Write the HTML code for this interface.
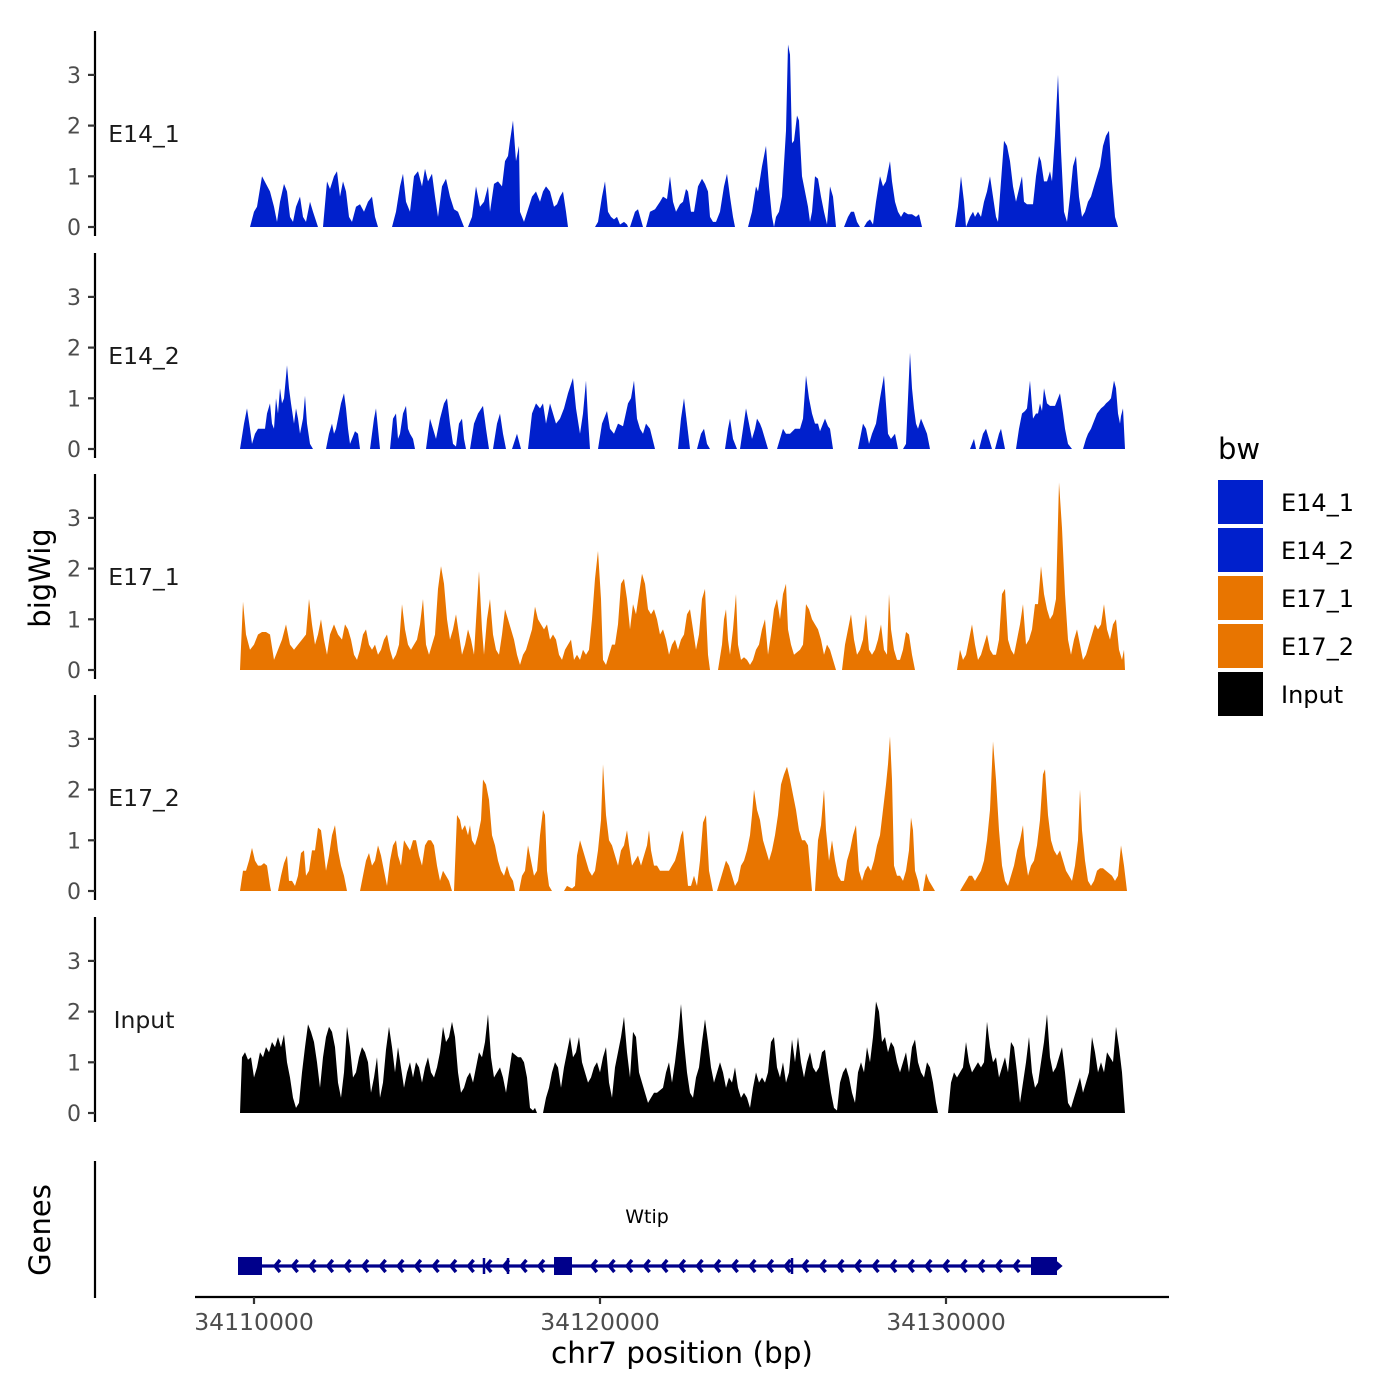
<!DOCTYPE html>
<html><head><meta charset="utf-8"><style>
html,body{margin:0;padding:0;background:#fff;}
svg{display:block;font-family:"DejaVu Sans","Liberation Sans",sans-serif;}
</style></head><body>
<svg id="s" width="1400" height="1400" viewBox="0 0 1400 1400" xmlns="http://www.w3.org/2000/svg">
<rect width="1400" height="1400" fill="#fff"/>
<g id="g"></g>
<text x="42" y="578" font-size="29" text-anchor="middle" transform="rotate(-90 42 578)" dominant-baseline="middle">bigWig</text>
<text x="42" y="1230" font-size="29" text-anchor="middle" transform="rotate(-90 42 1230)" dominant-baseline="middle">Genes</text>
<line x1="95" y1="1161" x2="95" y2="1298" stroke="#000" stroke-width="2.2"/>
<line x1="195" y1="1297" x2="1169" y2="1297" stroke="#000" stroke-width="2.2"/>
<g stroke="#333" stroke-width="2.2"><line x1="254" y1="1297" x2="254" y2="1304"/><line x1="600" y1="1297" x2="600" y2="1304"/><line x1="946" y1="1297" x2="946" y2="1304"/></g>
<g font-size="23.5" fill="#4d4d4d" text-anchor="middle"><text x="254" y="1330">34110000</text><text x="600" y="1330">34120000</text><text x="946" y="1330">34130000</text></g>
<text x="682" y="1363" font-size="29.5" text-anchor="middle">chr7 position (bp)</text>
<text x="647" y="1223" font-size="19" text-anchor="middle">Wtip</text>
<g id="genes"></g>
<text x="1218" y="459" font-size="29">bw</text>
<g font-size="24">
<rect x="1218" y="480" width="45" height="44" fill="#0020CC"/><text x="1281" y="511">E14_1</text>
<rect x="1218" y="528" width="45" height="44" fill="#0020CC"/><text x="1281" y="559">E14_2</text>
<rect x="1218" y="576" width="45" height="44" fill="#E87500"/><text x="1281" y="607">E17_1</text>
<rect x="1218" y="624" width="45" height="44" fill="#E87500"/><text x="1281" y="655">E17_2</text>
<rect x="1218" y="672" width="45" height="44" fill="#000"/><text x="1281" y="703">Input</text>
</g>
</svg>
<script>
var U=50.7;
var P=[
{b:227,c:"#0020CC",n:"E14_1",s:[
[250,0,254,.3,257,.4,262,1.0,266,.85,270,.7,274,.4,277,.1,280,.5,284,.85,287,.7,290,.2,293,.1,296,.4,300,.6,303,.2,306,.1,310,.5,313,.3,318,0],
[323,0,327,.9,330,.75,334,1.0,337,1.1,340,.6,343,.9,346,.7,349,.2,352,.1,356,.4,360,.45,364,.3,368,.5,372,.6,375,.2,378,0],
[392,0,396,.3,400,.8,403,1.05,406,.5,410,.3,414,1.0,418,1.1,422,.8,425,1.15,428,.9,432,1.05,435,.6,438,.2,442,.8,446,.95,450,.6,454,.35,458,.3,462,.1,464,0],
[468,0,472,.2,476,.8,480,.4,484,.5,488,.8,490,.3,494,.85,498,.9,502,.8,505,1.3,508,1.4,510,1.7,513,2.1,516,1.3,519,1.6,520,.3,524,.1,528,.35,532,.6,536,.7,540,.5,543,.7,546,.8,550,.7,554,.4,557,.45,560,.6,563,.7,566,.3,568,0],
[595,0,598,.1,602,.6,605,.9,608,.3,611,.2,614,.15,617,.2,620,.05,624,.1,627,.05,628,0],
[630,0,635,.3,638,.35,643,0],
[646,0,650,.3,655,.35,660,.5,663,.6,667,.55,670,1.0,673,.5,676,.3,680,.45,683,.5,686,.75,688,.7,691,.3,694,.3,698,.8,702,.95,705,.85,708,.7,710,.2,713,.1,716,.1,720,.3,724,.8,727,1.05,730,.6,733,.2,735,0],
[748,0,752,.3,756,.8,758,.7,762,1.2,766,1.6,769,.8,772,.2,774,0,776,.2,779,.3,782,.6,786,1.9,788,3.6,790,3.4,792,1.65,794,1.7,797,2.2,799,2.1,802,1.0,805,.7,808,.4,810,.1,812,.3,815,1.0,818,.95,821,.6,824,.3,827,.05,830,.8,833,.6,836,0],
[844,0,848,.2,851,.3,854,.3,857,.1,860,0],
[864,0,867,.1,870,.15,873,.05,876,.5,880,1.0,883,.8,886,.9,890,1.3,892,.9,895,.5,898,.3,901,.2,904,.3,908,.25,912,.25,916,.2,919,.25,922,0],
[955,0,958,.4,961,1.0,964,.5,966,0,970,.2,973,.3,975,.2,978,.3,981,.2,984,.5,987,.7,990,1.0,993,.6,996,.2,998,.1,1001,.9,1004,1.7,1007,1.6,1010,1.3,1013,.8,1016,.5,1019,.75,1022,1.0,1024,.5,1027,.45,1030,.45,1033,.45,1036,1.0,1039,1.4,1041,1.3,1044,.9,1047,.9,1050,1.1,1052,.9,1055,1.8,1058,3.0,1061,1.5,1064,.3,1067,.1,1070,.6,1073,1.2,1076,1.4,1079,.6,1082,.2,1085,.3,1088,.5,1091,.6,1094,.8,1097,1.0,1100,1.2,1103,1.6,1106,1.8,1109,1.9,1112,.9,1115,.2,1118,0]]},
{b:449,c:"#0020CC",n:"E14_2",s:[
[240,0,244,.5,247,.8,250,.4,252,.1,255,.3,258,.4,262,.4,265,.4,267,.7,270,.9,272,.5,274,.4,276,1.0,278,.7,280,1.2,282,.9,284,1.0,287,1.65,289,1.2,291,.9,294,.5,296,.8,298,.6,300,.3,303,.6,305,1.05,307,.5,310,.1,313,0],
[326,0,329,.3,332,.5,334,.3,336,.4,338,.6,341,.9,344,1.1,346,.8,348,.4,350,.1,352,.2,355,.35,358,.3,360,0],
[370,0,374,.6,376,.8,378,.4,380,0],
[390,0,393,.6,396,.7,398,.2,400,.3,403,.7,406,.85,408,.4,410,.3,413,.2,415,0],
[426,0,430,.6,433,.4,436,.2,440,.6,444,.9,447,1.0,450,.5,453,.1,456,.05,459,.5,462,.6,464,.2,466,0],
[470,0,474,.5,478,.7,483,.85,486,.4,489,0],[493,0,497,.5,500,.7,503,.3,506,0],[512,0,517,.3,521,0],
[528,0,532,.7,536,.9,540,.8,543,.9,546,.5,550,.9,553,.7,556,.5,560,.6,564,.8,568,1.1,573,1.4,576,.8,580,.3,583,.7,586,1.35,588,.6,590,0],
[598,0,602,.5,607,.75,610,.4,614,.3,618,.5,623,.45,628,.9,631,1.0,634,1.35,637,.6,640,.4,643,.3,646,.5,650,.4,655,0],
[678,0,681,.6,684,1.0,687,.5,690,0],[697,0,701,.3,704,.4,707,.1,710,0],[725,0,728,.4,730,.6,733,.2,737,0],
[740,0,743,.4,746,.8,749,.5,752,.2,755,.4,757,.6,760,.5,762,.4,765,.2,768,0],
[777,0,780,.2,783,.4,786,.3,790,.3,795,.4,800,.4,803,.6,806,1.45,809,1.0,812,.7,815,.5,818,.5,820,.35,823,.5,825,.6,828,.45,830,.4,833,0],
[858,0,861,.3,863,.5,866,.4,869,.1,872,.3,876,.5,880,1.0,884,1.45,887,.6,888,.3,891,.2,895,.3,898,0],
[903,0,906,.1,908,1.0,910,1.9,912,1.2,914,.8,916,.5,918,.4,921,.6,923,.5,927,.3,930,0],
[970,0,974,.2,976,0],[979,0,983,.3,986,.4,989,.2,992,0],[995,0,999,.3,1001,.4,1003,.2,1005,0],
[1016,0,1019,.4,1022,.7,1025,.75,1027,.8,1030,1.35,1033,.6,1036,.7,1038,.7,1040,.9,1042,.75,1044,1.2,1047,.9,1050,.85,1055,.85,1058,1.0,1060,1.1,1063,.7,1065,.4,1068,.1,1072,0],
[1083,0,1086,.2,1088,.3,1091,.4,1093,.5,1097,.7,1101,.8,1104,.85,1106,.9,1109,.95,1111,1.0,1114,1.35,1116,1.2,1118,.7,1120,.5,1121,.65,1123,.8,1125,0]]},
{b:670,c:"#E87500",n:"E17_1",s:[
[240,0,243,1.35,246,.7,250,.4,254,.5,258,.7,262,.75,266,.75,270,.7,274,.2,278,.4,282,.6,286,.9,290,.5,294,.4,298,.5,302,.6,306,.7,309,1.4,312,.9,315,.5,318,.7,321,1.0,324,.6,327,.3,330,.7,334,.9,338,.7,342,.6,345,.9,348,.8,351,.6,354,.3,357,.2,360,.4,363,.7,366,.8,369,.5,372,.4,375,.5,378,.3,381,.4,384,.6,387,.7,390,.4,393,.2,396,.3,399,.5,402,1.3,405,.8,408,.5,411,.4,414,.5,417,.6,420,.9,423,1.4,426,.5,429,.3,432,.5,435,.7,438,1.6,441,2.05,444,1.7,447,1.0,450,.6,453,.8,456,1.1,459,.7,462,.3,465,.5,468,.8,471,.6,474,.3,477,1.3,479,1.95,482,.8,484,.3,487,1.0,490,1.4,493,.7,496,.4,499,.3,502,.7,505,1.2,508,1.0,511,.8,514,.6,517,.3,520,.1,523,.3,526,.4,529,.6,532,.8,535,1.25,538,1.0,541,.9,544,.8,547,.9,550,.6,553,.7,556,.6,559,.3,562,.2,565,.4,568,.5,571,.6,574,.2,577,.3,580,.2,583,.4,586,.3,589,.4,592,1.0,595,1.8,598,2.35,601,1.4,603,.2,606,.1,609,.3,612,.5,615,.5,618,.9,621,1.7,624,1.8,627,1.4,630,.8,633,1.3,636,1.1,639,1.5,642,1.9,645,1.7,648,1.2,651,1.1,654,1.2,657,1.0,660,.7,663,.8,666,.6,669,.3,672,.5,675,.6,678,.4,681,.6,684,.7,687,1.1,690,1.2,693,.8,696,.4,699,.7,702,1.4,705,1.6,708,.3,710,0],
[718,0,722,.5,724,1.0,726,1.2,728,.6,730,.3,733,.8,736,1.5,738,.5,741,.2,744,.25,747,.2,750,.1,753,.2,756,.4,759,.5,762,.8,765,1.0,768,.3,771,.7,774,1.2,777,1.4,780,1.0,783,1.5,786,1.7,788,.8,791,.5,794,.3,797,.35,800,.4,803,.5,806,1.3,809,1.2,812,1.0,815,.9,818,.8,821,.6,824,.3,827,.5,830,.4,833,.2,836,0],
[842,0,845,.5,848,.8,851,1.1,854,.6,857,.3,860,.4,863,.6,866,1.1,869,.4,872,.3,875,.4,878,.6,881,.9,884,.4,887,.3,889,1.5,891,.8,894,.4,897,.2,900,.2,903,.4,906,.75,909,.7,912,.3,915,0],
[957,0,960,.4,963,.2,966,.3,969,.6,972,.9,975,.5,978,.2,981,.3,984,.5,987,.7,990,.4,993,.3,996,.3,999,.6,1002,1.5,1005,1.6,1008,.6,1011,.4,1014,.3,1017,.6,1020,.9,1023,1.3,1026,.5,1029,.6,1032,.8,1035,1.3,1038,1.3,1041,2.05,1044,1.5,1047,1.2,1050,1.0,1053,1.1,1056,1.4,1059,3.7,1062,2.8,1065,1.5,1068,.6,1071,.3,1074,.6,1077,.8,1080,.5,1083,.2,1086,.3,1089,.5,1092,.7,1095,.9,1098,.8,1101,.9,1104,1.3,1107,.8,1110,.6,1113,.9,1116,1.0,1119,.4,1122,.2,1124,.4,1125,0]]},
{b:891,c:"#E87500",n:"E17_2",s:[
[240,0,243,.4,246,.4,249,.6,252,.85,255,.6,258,.5,261,.5,264,.55,267,.5,270,.1,271,0],
[278,0,281,.3,284,.55,287,.7,289,.2,292,.2,295,.1,298,.3,301,.75,304,.8,306,.3,309,.4,312,.8,315,.8,318,1.25,321,1.2,323,.9,326,.4,329,.7,332,1.1,335,1.3,338,.8,341,.5,344,.3,347,0],
[360,0,363,.3,366,.6,369,.75,372,.5,375,.6,378,.9,381,.7,384,.4,387,.1,390,.6,393,.9,396,1.0,398,.7,401,.5,404,1.0,407,.9,410,.8,413,1.0,416,1.0,419,.7,422,.5,425,.9,428,1.0,431,1.0,434,.9,437,.5,440,.2,443,.4,446,.3,449,.2,452,0],
[454,0,457,1.5,460,1.4,462,1.2,465,1.3,468,1.1,470,1.3,472,1.0,475,.9,478,1.1,481,1.4,483,2.2,486,2.1,489,1.8,492,1.1,495,.9,498,.6,501,.4,504,.3,507,.5,510,.3,513,.2,515,0],
[519,0,522,.3,525,.4,528,.9,531,.6,534,.3,537,.4,540,1.1,543,1.6,545,1.5,547,.4,549,.1,552,0],
[564,0,567,.1,572,.05,575,.1,577,.7,580,1.0,583,.8,586,.6,589,.4,592,.3,595,.4,598,.8,601,1.4,603,2.5,606,1.5,609,1.0,612,.9,615,.7,618,.5,621,.8,624,.9,627,1.2,629,.9,632,.5,635,.6,638,.7,641,.5,644,.7,647,.9,649,1.2,651,.8,654,.5,657,.5,660,.4,663,.4,666,.4,669,.4,672,.5,675,.6,678,.8,681,1.1,683,1.2,686,.5,688,.1,691,.1,694,.3,697,.1,700,.6,703,1.35,706,1.5,709,.4,713,0],
[717,0,720,.2,723,.4,726,.6,729,.5,732,.3,735,.1,738,.2,741,.5,744,.6,747,.8,750,1.1,752,1.5,754,2.0,757,1.6,760,1.4,763,1.0,766,.8,769,.6,772,.8,775,1.1,778,1.5,781,2.1,784,2.3,787,2.45,790,2.2,793,1.9,796,1.6,799,1.2,802,1.0,805,1.0,808,.9,812,0],
[815,0,818,1.0,821,1.3,824,2.0,826,1.2,829,.6,832,1.0,835,.6,838,.3,841,.2,844,.2,847,.6,850,.8,853,1.1,856,1.3,859,.4,862,.2,865,.4,868,.5,871,.4,874,.6,877,.9,880,1.1,883,1.6,886,2.1,888,2.5,890,3.05,892,2.2,894,.5,897,.3,900,.3,903,.2,906,.4,909,.8,911,1.45,913,1.2,915,.4,918,.2,920,0],
[923,0,926,.35,929,.2,932,.1,935,0],
[960,0,963,.1,966,.2,969,.3,972,.3,975,.2,978,.3,981,.4,984,.6,987,1.0,990,1.6,993,2.95,996,2.2,999,1.2,1002,.5,1005,.2,1008,.1,1011,.3,1014,.5,1017,.8,1020,1.0,1023,1.3,1025,.7,1028,.3,1031,.5,1034,.6,1037,.9,1040,1.4,1043,2.3,1045,2.4,1048,1.5,1051,1.0,1054,.8,1057,.7,1060,.8,1063,.6,1066,.4,1069,.3,1072,.2,1075,.5,1078,1.0,1080,2.0,1082,1.2,1085,.6,1088,.2,1091,.1,1094,.2,1097,.4,1100,.45,1103,.45,1106,.4,1109,.35,1112,.3,1115,.2,1118,.3,1121,.9,1124,.5,1127,0]]},
{b:1113,c:"#000000",n:"Input",s:[
[240,0,242,1.1,245,1.2,248,1.05,251,1.1,254,.7,257,.9,260,1.2,263,1.1,266,1.3,269,1.2,272,1.4,275,1.3,278,1.5,281,1.3,284,1.55,287,1.0,290,.7,293,.3,296,.1,299,.2,302,.8,305,1.3,308,1.75,311,1.6,314,1.4,317,1.0,320,.5,323,1.1,326,1.5,329,1.7,332,1.6,335,1.3,338,.6,341,.3,344,.8,347,1.7,350,1.3,353,.7,356,.8,359,1.1,362,1.3,365,1.2,368,1.0,371,.4,374,.7,377,1.1,380,.3,383,.6,386,1.25,389,1.7,392,1.3,395,.8,398,1.3,401,.9,404,.5,407,.8,410,1.0,413,.7,416,1.0,419,.9,422,.6,425,.9,428,1.1,431,.8,434,.7,437,.9,440,1.2,443,1.7,446,1.4,449,1.5,452,1.8,455,1.5,458,.8,461,.4,464,.5,467,.7,470,.8,473,.6,476,.9,479,1.2,482,1.1,485,1.4,488,1.95,491,1.1,494,.7,497,.8,500,.9,503,.7,506,.4,509,.8,512,1.2,515,1.15,518,1.1,521,1.1,524,1.0,527,.7,530,.1,533,.05,535,.1,537,0],
[543,0,546,.3,549,.5,552,.8,555,1.0,558,.9,561,.5,564,.9,567,1.2,570,1.5,573,1.1,576,1.2,579,1.5,582,1.0,585,.8,588,.6,591,.7,594,.9,597,1.0,600,.8,603,1.1,606,1.3,609,.6,612,.3,615,.9,618,1.2,621,1.5,624,1.9,627,1.2,630,.7,633,1.6,636,1.5,639,.8,642,.6,645,.4,648,.2,651,.3,654,.4,657,.4,660,.45,663,.5,666,.8,669,1.0,672,.6,675,1.0,678,1.5,681,2.15,684,1.4,687,.8,690,.4,693,.3,696,.7,699,.9,702,1.4,705,1.85,708,1.4,711,.9,714,.6,717,.8,720,1.0,723,.8,726,.5,729,.7,732,.6,735,.9,738,.5,741,.3,744,.4,747,.3,750,.1,753,.5,756,.8,759,.6,762,.7,765,.6,768,.8,771,1.4,774,1.5,777,.9,780,.7,783,1.0,786,.6,789,.8,792,1.45,795,1.0,798,1.5,801,1.0,804,.7,807,1.0,810,1.2,813,.9,816,.8,819,.9,822,1.2,825,1.25,828,.8,831,.4,834,.1,837,.05,840,.6,843,.8,846,.9,849,.7,852,.4,855,.2,858,.8,861,1.0,864,.8,867,1.3,870,1.0,873,1.5,876,2.2,879,2.0,882,1.4,885,1.5,888,1.2,891,1.4,894,1.3,897,1.0,900,.8,903,1.0,906,1.2,909,.8,912,1.3,915,1.45,918,1.0,921,.8,924,.7,927,1.0,930,.9,933,.6,936,.2,938,0],
[948,0,951,.6,954,.8,957,.7,960,.8,963,.9,966,1.4,969,1.0,972,.8,975,.9,978,1.0,981,.9,984,1.0,987,1.8,990,1.3,993,1.0,996,1.1,999,.7,1002,.9,1005,1.1,1008,.8,1011,1.4,1014,1.3,1017,.8,1020,.2,1023,.6,1026,1.0,1029,1.5,1032,.8,1035,.5,1038,.6,1041,1.0,1044,1.4,1047,1.95,1050,1.1,1053,.8,1056,.9,1059,1.1,1062,1.3,1065,.8,1068,.2,1071,.1,1074,.3,1077,.5,1080,.7,1083,.4,1086,.6,1089,.8,1092,1.5,1095,1.2,1098,.8,1101,1.0,1104,.8,1107,1.2,1110,1.1,1113,1.0,1116,1.7,1119,1.3,1122,.8,1125,0]]}
];
var NS="http://www.w3.org/2000/svg",g=document.getElementById("g");
function el(t,a,txt){var e=document.createElementNS(NS,t);for(var k in a)e.setAttribute(k,a[k]);if(txt)e.textContent=txt;g.appendChild(e);return e;}
P.forEach(function(p){
  var b=p.b;
  el("line",{x1:95,y1:b-196,x2:95,y2:b+9,stroke:"#000","stroke-width":2.2});
  for(var i=0;i<4;i++){var y=b-i*U;
    el("line",{x1:88,y1:y,x2:95,y2:y,stroke:"#333","stroke-width":2.2});
    el("text",{x:81,y:y+8,"font-size":22,fill:"#4d4d4d","text-anchor":"end"},""+i);}
  el("text",{x:144,y:b-85,"font-size":23.5,"text-anchor":"middle",fill:"#1a1a1a"},p.n);
  p.s.forEach(function(s){
    var d="M"+s[0]+","+b;
    for(var j=0;j<s.length;j+=2)d+=" L"+s[j]+","+(b-s[j+1]*U).toFixed(1);
    d+=" L"+s[s.length-2]+","+b+"Z";
    el("path",{d:d,fill:p.c});
  });
});
var gy=1266,nv="#00008B";
el("line",{x1:238,y1:gy,x2:1060,y2:gy,stroke:nv,"stroke-width":3.2});
[[238,262],[554,572],[1031,1057]].forEach(function(r){el("rect",{x:r[0],y:gy-9,width:r[1]-r[0],height:18,fill:nv});});
[484,508,792].forEach(function(x){el("line",{x1:x,y1:gy-8,x2:x,y2:gy+8,stroke:nv,"stroke-width":2.5});});
for(var x=275;x<1030;x+=17.6){ if(x>548&&x<578)continue;
  el("path",{d:"M"+(x+5)+","+(gy-6)+" L"+x+","+gy+" L"+(x+5)+","+(gy+6),stroke:nv,"stroke-width":3.4,fill:"none"});}
el("path",{d:"M1053,1260 L1060,1266 L1053,1272",stroke:nv,"stroke-width":3.4,fill:"none"});
</script>
</body></html>
